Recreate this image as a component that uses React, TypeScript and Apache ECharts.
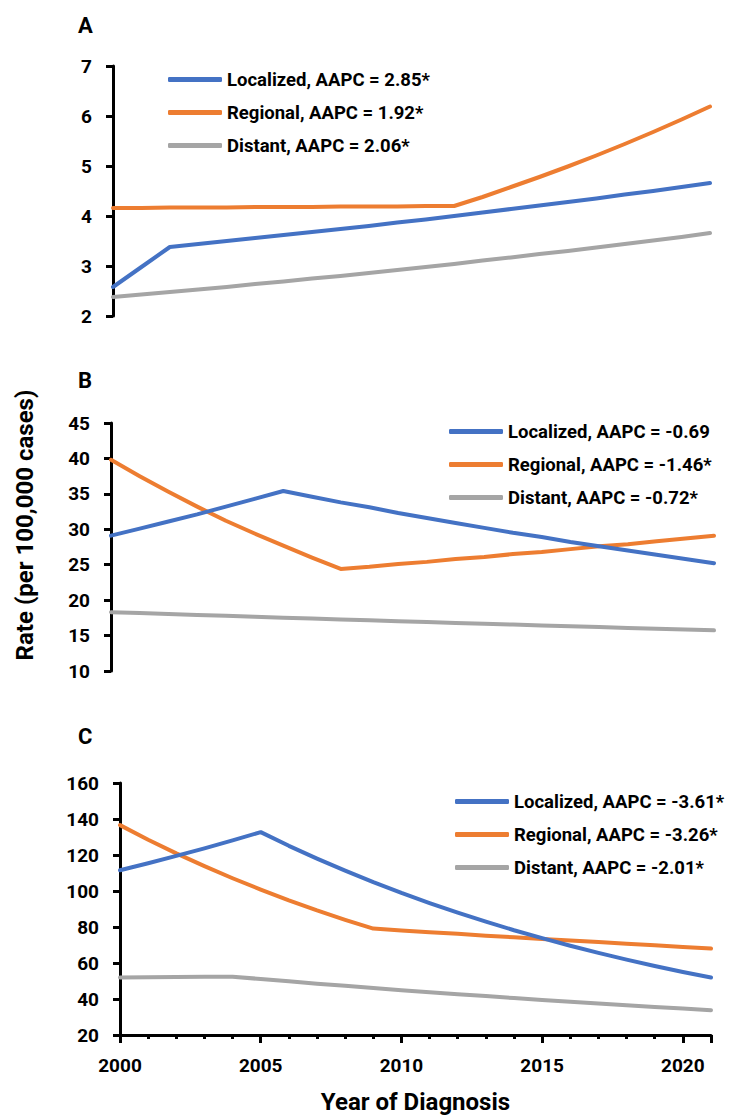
import React, { useEffect, useRef } from "react";
import * as echarts from "echarts";

const years = [2000, 2001, 2002, 2003, 2004, 2005, 2006, 2007, 2008, 2009, 2010, 2011, 2012, 2013, 2014, 2015, 2016, 2017, 2018, 2019, 2020, 2021];

// Panel A
const aLocalized = [2.58, 2.98, 3.38, 3.44, 3.5, 3.56, 3.62, 3.68, 3.74, 3.8, 3.87, 3.93, 4.0, 4.07, 4.14, 4.21, 4.28, 4.35, 4.43, 4.5, 4.58, 4.66];
const aRegional = [4.16, 4.16, 4.17, 4.17, 4.17, 4.18, 4.18, 4.18, 4.19, 4.19, 4.19, 4.2, 4.2, 4.38, 4.58, 4.78, 4.99, 5.21, 5.44, 5.68, 5.93, 6.19];
const aDistant = [2.38, 2.43, 2.48, 2.53, 2.58, 2.64, 2.69, 2.75, 2.8, 2.86, 2.92, 2.98, 3.04, 3.11, 3.17, 3.24, 3.3, 3.37, 3.44, 3.51, 3.58, 3.66];
const aNames = ["Localized, AAPC = 2.85*", "Regional, AAPC = 1.92*", "Distant, AAPC = 2.06*"];

// Panel B
const bLocalized = [29.1, 30.1, 31.1, 32.1, 33.2, 34.3, 35.4, 34.6, 33.8, 33.1, 32.3, 31.6, 30.9, 30.2, 29.5, 28.9, 28.2, 27.6, 27.0, 26.4, 25.8, 25.2];
const bRegional = [39.8, 37.5, 35.3, 33.2, 31.2, 29.4, 27.7, 26.0, 24.4, 24.7, 25.1, 25.4, 25.8, 26.1, 26.5, 26.8, 27.2, 27.6, 27.9, 28.3, 28.7, 29.1];
const bDistant = [18.3, 18.17, 18.04, 17.91, 17.78, 17.65, 17.53, 17.4, 17.28, 17.15, 17.03, 16.91, 16.79, 16.67, 16.55, 16.43, 16.31, 16.2, 16.08, 15.97, 15.85, 15.74];
const bNames = ["Localized, AAPC = -0.69", "Regional, AAPC = -1.46*", "Distant, AAPC = -0.72*"];

// Panel C
const cLocalized = [111.5, 115.4, 119.5, 123.7, 128.1, 132.7, 125.1, 118.0, 111.3, 104.9, 98.9, 93.3, 88.0, 83.0, 78.2, 73.8, 69.6, 65.6, 61.9, 58.3, 55.0, 51.9];
const cRegional = [136.6, 128.5, 120.9, 113.8, 107.1, 100.8, 94.8, 89.2, 84.0, 79.1, 78.1, 77.1, 76.2, 75.2, 74.3, 73.4, 72.5, 71.6, 70.7, 69.8, 68.9, 68.0];
const cDistant = [52.0, 52.1, 52.2, 52.3, 52.4, 51.1, 49.8, 48.5, 47.3, 46.1, 44.9, 43.8, 42.6, 41.6, 40.5, 39.5, 38.5, 37.5, 36.5, 35.6, 34.7, 33.8];
const cNames = ["Localized, AAPC = -3.61*", "Regional, AAPC = -3.26*", "Distant, AAPC = -2.01*"];

const yTicksA = { min: 2, max: 7, interval: 1 };
const yTicksB = { min: 10, max: 45, interval: 5 };
const yTicksC = { min: 20, max: 160, interval: 20 };

const colors = ["#4472C4", "#ED7D31", "#A5A5A5"];
const FONT = "Roboto";

export default function App() {
  const ref = useRef<HTMLDivElement>(null);
  useEffect(() => {
    if (!ref.current) return;
    const chart = echarts.init(ref.current, null, { renderer: "svg" });
    const panels = [
      { names: aNames, data: [aLocalized, aRegional, aDistant] },
      { names: bNames, data: [bLocalized, bRegional, bDistant] },
      { names: cNames, data: [cLocalized, cRegional, cDistant] },
    ];
    const series: any[] = [];
    panels.forEach((p, pi) => {
      p.data.forEach((vals, si) => {
        series.push({
          type: "line",
          name: p.names[si],
          xAxisIndex: pi,
          yAxisIndex: pi,
          data: years.map((y, i) => [y, vals[i]]),
          showSymbol: false,
          symbol: "none",
          color: colors[si],
          lineStyle: { width: 4, color: colors[si], cap: "round", join: "round" },
          z: 3 - si,
        });
      });
    });
    const labelStyle = { fontFamily: FONT, fontWeight: "bold", fontSize: 19, color: "#000" };
    const yAxisBase = (t: any, margin: number) => ({
      type: "value",
      min: t.min,
      max: t.max,
      interval: t.interval,
      axisLine: { show: true, lineStyle: { color: "#000", width: 3 } },
      axisTick: { show: true, length: 7, lineStyle: { color: "#000", width: 3 } },
      splitLine: { show: false },
      axisLabel: { ...labelStyle, margin },
    });
    const hiddenX = {
      type: "value",
      min: 2000,
      max: 2021,
      show: false,
      splitLine: { show: false },
    };
    const legendBase = (names: string[], left: number, top: number) => ({
      data: names,
      left,
      top,
      padding: 0,
      orient: "vertical",
      itemWidth: 54,
      itemHeight: 5,
      itemGap: 12,
      icon: "roundRect",
      selectedMode: false,
      textStyle: { fontFamily: FONT, fontWeight: "bold", fontSize: 18.5, color: "#000", lineHeight: 21 },
    });
    const panelLabel = (t: string, top: number) => ({
      type: "text",
      left: 78,
      top,
      style: { text: t, fontFamily: FONT, fontWeight: "bold", fontSize: 22, fill: "#000" },
    });
    chart.setOption({
      animation: false,
      backgroundColor: "#fff",
      grid: [
        { left: 113, width: 597, top: 66, height: 250 },
        { left: 111, width: 603, top: 423, height: 248 },
        { left: 120, width: 591, top: 783, height: 252 },
      ],
      xAxis: [
        { ...hiddenX, gridIndex: 0 },
        { ...hiddenX, gridIndex: 1 },
        {
          type: "value",
          gridIndex: 2,
          min: 2000,
          max: 2021,
          interval: 5,
          axisLine: { show: true, lineStyle: { color: "#000", width: 3 } },
          axisTick: { show: true, length: 8, lineStyle: { color: "#000", width: 3 } },
          minorTick: { show: true, splitNumber: 5, length: 4, lineStyle: { color: "#000", width: 3 } },
          splitLine: { show: false },
          axisLabel: { ...labelStyle, margin: 21, showMaxLabel: false, formatter: (v: number) => String(v) },
          name: "Year of Diagnosis",
          nameLocation: "middle",
          nameGap: 55,
          nameTextStyle: { fontFamily: FONT, fontWeight: "bold", fontSize: 24, color: "#000" },
        },
      ],
      yAxis: [
        { ...yAxisBase(yTicksA, 21), gridIndex: 0 },
        { ...yAxisBase(yTicksB, 21), gridIndex: 1 },
        { ...yAxisBase(yTicksC, 21), gridIndex: 2 },
      ],
      legend: [
        legendBase(aNames, 168, 69),
        legendBase(bNames, 449, 421),
        legendBase(cNames, 455, 791),
      ],
      graphic: [
        panelLabel("A", 14),
        panelLabel("B", 369),
        panelLabel("C", 725),
        {
          type: "text",
          x: 25,
          y: 525,
          rotation: Math.PI / 2,
          style: {
            text: "Rate (per 100,000 cases)",
            fontFamily: FONT,
            fontWeight: "bold",
            fontSize: 24,
            fill: "#000",
            align: "center",
            verticalAlign: "middle",
          },
        },
      ],
      series,
    });
    return () => chart.dispose();
  }, []);
  return (
    <div
      ref={ref}
      style={{ position: "fixed", left: 0, top: 0, width: 729, height: 1115, background: "#fff" }}
    />
  );
}
